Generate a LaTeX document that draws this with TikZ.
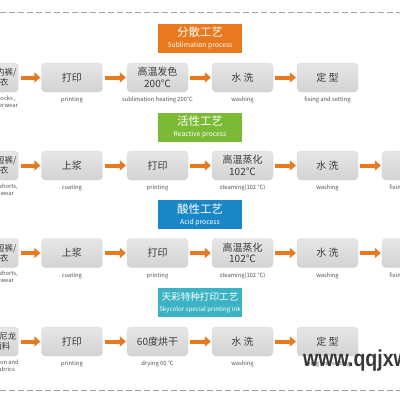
\documentclass[tikz,border=0pt]{standalone}
\usepackage{fontspec}
\setmainfont{Noto Sans CJK SC}
\newfontfamily\wmfont{Liberation Sans}
\usetikzlibrary{arrows.meta}
\definecolor{orng}{HTML}{E8791F}
\definecolor{grn}{HTML}{7BBA35}
\definecolor{blu}{HTML}{1B86C6}
\definecolor{cyn}{HTML}{3CB3C4}
\definecolor{boxtop}{HTML}{E6E6E6}
\definecolor{boxbot}{HTML}{D3D3D3}
\definecolor{txt}{HTML}{3A3A3A}
\definecolor{lbl}{HTML}{555555}
\definecolor{dashc}{HTML}{A0A0A0}
\begin{document}
\begin{tikzpicture}[x=1pt,y=-1pt,
  stepbox/.style={rectangle,rounded corners=4pt,minimum width=61pt,minimum height=29pt,inner sep=0pt,
    top color=boxtop,bottom color=boxbot,draw=boxbot,line width=0.3pt,text=txt,align=center,
    font=\fontsize{10}{11.5}\selectfont},
  firstbox/.style={stepbox,text width=57pt,align=right,font=\fontsize{8.5}{10}\selectfont},
  lbltext/.style={text=lbl,align=center,inner sep=0pt,font=\fontsize{5.8}{6.8}\selectfont},
  firstlbl/.style={lbltext,anchor=east,align=right},
  header/.style={rectangle,minimum width=84pt,minimum height=29pt,inner sep=0pt,text=white,align=center},
  arr/.style={draw=orng,line width=4pt,-{Triangle[length=6pt,width=10pt]},shorten <=2pt,shorten >=1pt},
  dline/.style={draw=dashc,line width=0.8pt,dash pattern=on 6pt off 3pt}]
\useasboundingbox (0,0) rectangle (400,400);
\clip (0,0) rectangle (400,400);
\fill[white] (0,0) rectangle (400,400);
% dashed separators
\coordinate (tl) at (0,12); \coordinate (tr) at (400,12);
\coordinate (bl) at (0,390); \coordinate (br) at (400,390);
\draw[dline] (tl) -- (tr);
\draw[dline] (bl) -- (br);
% headers
\node[header,fill=orng] (h1) at (200,38) {{\fontsize{11.5}{13}\selectfont 分散工艺}\\[-1pt]{\fontsize{6.8}{7.5}\selectfont Sublimation process}};
\node[header,fill=grn] (h2) at (200,127) {{\fontsize{11.5}{13}\selectfont 活性工艺}\\[-1pt]{\fontsize{6.8}{7.5}\selectfont Reactive process}};
\node[header,fill=blu] (h3) at (200,214.5) {{\fontsize{11.5}{13}\selectfont 酸性工艺}\\[-1pt]{\fontsize{6.8}{7.5}\selectfont Acid process}};
\node[header,fill=cyn] (h4) at (200,302.5) {{\fontsize{9.6}{12}\selectfont 天彩特种打印工艺}\\[-1pt]{\fontsize{6.2}{7}\selectfont Skycolor special printing ink}};
% row 1
\node[firstbox] (a0) at (-12,77.5) {袜子内裤/\\内衣\hspace*{8pt}};
\node[stepbox] (a1) at (72,77.5) {打印};
\node[stepbox] (a2) at (157.5,77.5) {高温发色\\200℃};
\node[stepbox] (a3) at (242.5,77.5) {水\ 洗};
\node[stepbox] (a4) at (327.5,77.5) {定\ 型};
\node[firstlbl] (la0) at (18,101.5) {T-shirts, socks ,\hspace*{2pt}\\underwear};
\node[lbltext] (la1) at (72,99.5) {printing};
\node[lbltext] (la2) at (157.5,99.5) {sublimation heating 200℃};
\node[lbltext] (la3) at (242.5,99.5) {washing};
\node[lbltext] (la4) at (327.5,99.5) {fixing and setting};
\draw[arr] (a0) -- (a1);
\draw[arr] (a1) -- (a2);
\draw[arr] (a2) -- (a3);
\draw[arr] (a3) -- (a4);
% row 2
\node[firstbox] (b0) at (-12,165.5) {T恤/短裤/\\运动衣\hspace*{8pt}};
\node[stepbox] (b1) at (72,165.5) {上浆};
\node[stepbox] (b2) at (157.5,165.5) {打印};
\node[stepbox] (b3) at (242.5,165.5) {高温蒸化\\102℃};
\node[stepbox] (b4) at (327.5,165.5) {水\ 洗};
\node[stepbox] (b5) at (412.5,165.5) {定\ 型};
\node[firstlbl] (lb0) at (18,190) {T-shirts, shorts,\\sportswear\hspace*{4pt}};
\node[lbltext] (lb1) at (72,188) {coating};
\node[lbltext] (lb2) at (157.5,188) {printing};
\node[lbltext] (lb3) at (242.5,188) {steaming(102 ℃)};
\node[lbltext] (lb4) at (327.5,188) {washing};
\node[lbltext] (lb5) at (412.5,188) {fixing and setting};
\draw[arr] (b0) -- (b1);
\draw[arr] (b1) -- (b2);
\draw[arr] (b2) -- (b3);
\draw[arr] (b3) -- (b4);
\draw[arr] (b4) -- (b5);
% row 3
\node[firstbox] (c0) at (-12,253) {T恤/短裤/\\运动衣\hspace*{8pt}};
\node[stepbox] (c1) at (72,253) {上浆};
\node[stepbox] (c2) at (157.5,253) {打印};
\node[stepbox] (c3) at (242.5,253) {高温蒸化\\102℃};
\node[stepbox] (c4) at (327.5,253) {水\ 洗};
\node[stepbox] (c5) at (412.5,253) {定\ 型};
\node[firstlbl] (lc0) at (18,277.5) {T-shirts, shorts,\\sportswear\hspace*{4pt}};
\node[lbltext] (lc1) at (72,275.5) {coating};
\node[lbltext] (lc2) at (157.5,275.5) {printing};
\node[lbltext] (lc3) at (242.5,275.5) {steaming(102 ℃)};
\node[lbltext] (lc4) at (327.5,275.5) {washing};
\node[lbltext] (lc5) at (412.5,275.5) {fixing and setting};
\draw[arr] (c0) -- (c1);
\draw[arr] (c1) -- (c2);
\draw[arr] (c2) -- (c3);
\draw[arr] (c3) -- (c4);
\draw[arr] (c4) -- (c5);
% row 4
\node[firstbox] (d0) at (-12,341.5) {锦纶尼龙\\面料\hspace*{6pt}};
\node[stepbox] (d1) at (72,341.5) {打印};
\node[stepbox] (d2) at (157.5,341.5) {60度烘干};
\node[stepbox] (d3) at (242.5,341.5) {水\ 洗};
\node[stepbox] (d4) at (327.5,341.5) {定\ 型};
\node[firstlbl] (ld0) at (19,366) {Nylon and\\other fabrics\hspace*{4pt}};
\node[lbltext] (ld1) at (72,364) {printing};
\node[lbltext] (ld2) at (157.5,364) {drying 60 ℃};
\node[lbltext] (ld3) at (242.5,364) {washing};
\node[lbltext] (ld4) at (327.5,364) {fixing and setting};
\draw[arr] (d0) -- (d1);
\draw[arr] (d1) -- (d2);
\draw[arr] (d2) -- (d3);
\draw[arr] (d3) -- (d4);
% watermark
\node[anchor=west,inner sep=0pt,xscale=0.85,text=black!78,
  font=\wmfont\bfseries\fontsize{23}{23}\selectfont] (wm) at (303,361) {www.qqjxw.com};
\end{tikzpicture}
\end{document}
